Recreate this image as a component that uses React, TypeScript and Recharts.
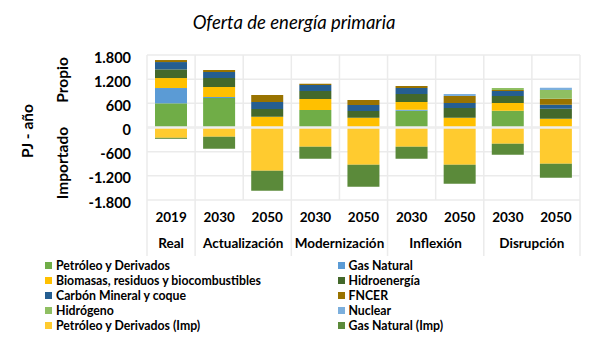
import { BarChart, Bar, XAxis, YAxis, CartesianGrid, ReferenceLine } from 'recharts'

const years = ['2019', '2030', '2050', '2030', '2050', '2030', '2050', '2030', '2050']
const scenarios = ['Real', 'Actualización', 'Actualización', 'Modernización', 'Modernización', 'Inflexión', 'Inflexión', 'Disrupción', 'Disrupción']

// PJ - año, propio (positivo) e importado (negativo)
const petroleo = [600, 734, 0, 437, 0, 413, 0, 413, 0]
const gasNatural = [380, 25, 0, 0, 0, 25, 0, 0, 0]
const biomasas = [248, 248, 264, 272, 239, 198, 239, 198, 215]
const hidroenergia = [215, 223, 198, 198, 173, 198, 248, 173, 248]
const carbon = [182, 149, 173, 149, 149, 149, 124, 124, 99]
const fncer = [50, 50, 173, 33, 124, 50, 173, 25, 149]
const hidrogeno = [0, 0, 0, 0, 0, 0, 0, 50, 223]
const nuclear = [0, 0, 0, 0, 0, 0, 50, 0, 50]
const petroleoImp = [-256, -231, -1073, -479, -924, -479, -924, -404, -900]
const gasNaturalImp = [-25, -297, -495, -297, -545, -297, -470, -272, -347]

const yTicks = [-1800, -1200, -600, 0, 600, 1200, 1800]

const series = [
  { key: 'petroleo', name: 'Petróleo y Derivados', color: '#70AD47', values: petroleo },
  { key: 'gasNatural', name: 'Gas Natural', color: '#5B9BD5', values: gasNatural },
  { key: 'biomasas', name: 'Biomasas, residuos y biocombustibles', color: '#FFC000', values: biomasas },
  { key: 'hidroenergia', name: 'Hidroenergía', color: '#43682B', values: hidroenergia },
  { key: 'carbon', name: 'Carbón Mineral y coque', color: '#255E91', values: carbon },
  { key: 'fncer', name: 'FNCER', color: '#997300', values: fncer },
  { key: 'hidrogeno', name: 'Hidrógeno', color: '#8FBF62', values: hidrogeno },
  { key: 'nuclear', name: 'Nuclear', color: '#7CAFDD', values: nuclear },
  { key: 'petroleoImp', name: 'Petróleo y Derivados (Imp)', color: '#FFCB2F', values: petroleoImp },
  { key: 'gasNaturalImp', name: 'Gas Natural (Imp)', color: '#5B8A3A', values: gasNaturalImp },
]

const data = years.map((year, i) => {
  const row: Record<string, string | number> = { year, scenario: scenarios[i] }
  series.forEach((s) => { row[s.key] = s.values[i] })
  return row
})

const FONT = "Lato, 'Liberation Sans', sans-serif"
const GRID = '#EBEBEB'

const fmt = (v: number) => {
  const s = Math.abs(v).toString().replace(/\B(?=(\d{3})+(?!\d))/g, '.')
  return v < 0 ? '-' + s : s
}

function YTick(props: any) {
  const { x, y, payload } = props
  return (
    <text x={x} y={y + 2} textAnchor="end" dominantBaseline="central" fontFamily={FONT} fontWeight={700} fontSize={14.5} fill="#000">
      {fmt(payload.value)}
    </text>
  )
}

function CatTick(props: any) {
  const { x, y, index, width, payload } = props
  const bw = width / years.length
  const first = index === 0 || scenarios[index] !== scenarios[index - 1]
  let n = 1
  while (index + n < scenarios.length && scenarios[index + n] === scenarios[index]) n++
  const last = index === years.length - 1
  return (
    <g>
      <text x={x} y={y + 17} textAnchor="middle" dominantBaseline="central" fontFamily={FONT} fontWeight={700} fontSize={13.5} fill="#000">
        {payload.value}
      </text>
      {first && (
        <>
          <line x1={x - bw / 2} x2={x - bw / 2} y1={y} y2={y + 56} stroke={GRID} strokeWidth={1.5} />
          <text x={x + ((n - 1) * bw) / 2} y={y + 43} textAnchor="middle" dominantBaseline="central" fontFamily={FONT} fontWeight={700} fontSize={13.5} fill="#000">
            {scenarios[index]}
          </text>
        </>
      )}
      {last && <line x1={x + bw / 2} x2={x + bw / 2} y1={y} y2={y + 56} stroke={GRID} strokeWidth={1.5} />}
    </g>
  )
}

function SideLabels() {
  return (
    <g fontFamily={FONT} fontWeight={700} fontSize={15.5} fill="#000">
      <text x={294} y={22} textAnchor="middle" dominantBaseline="central" fontStyle="italic" fontWeight={400} fontSize={18.5}>
        Oferta de energía primaria
      </text>
      <text transform="translate(27,131) rotate(-90)" textAnchor="middle" dominantBaseline="central">PJ - año</text>
      <text transform="translate(62,80) rotate(-90)" textAnchor="middle" dominantBaseline="central">Propio</text>
      <text transform="translate(62,163) rotate(-90)" textAnchor="middle" dominantBaseline="central">Importado</text>
    </g>
  )
}

export default function App() {
  return (
    <div style={{ position: 'absolute', left: 0, top: 0, width: 609, height: 356, background: '#fff' }}>
      <BarChart
        width={609}
        height={356}
        data={data}
        stackOffset="sign"
        margin={{ top: 55, right: 29, left: 0, bottom: 100 }}
      >
        <CartesianGrid
          stroke={GRID}
          strokeWidth={1.5}
          verticalCoordinatesGenerator={({ offset }: any) =>
            years.map((_, i) => offset.left + (i * offset.width) / years.length).concat(offset.left + offset.width)
          }
        />
        <XAxis dataKey="year" height={56} tickSize={0} tickMargin={0} interval={0} axisLine={false} tickLine={false} tick={<CatTick />} />
        <YAxis
          width={147}
          domain={[-1800, 1800]}
          ticks={yTicks}
          tickSize={0}
          tickMargin={16}
          axisLine={false}
          tickLine={false}
          tick={<YTick />}
        />
        {series.map((s) => (
          <Bar key={s.key} dataKey={s.key} name={s.name} stackId="a" fill={s.color} barSize={32} isAnimationActive={false} />
        ))}
        <ReferenceLine y={0} stroke="#EEEEEE" strokeWidth={2.5} />
        <SideLabels />
      </BarChart>
      <div style={{ position: 'absolute', left: 0, top: 0, fontFamily: FONT, fontWeight: 700, fontSize: 12.3, color: '#000' }}>
        {series.map((s, i) => {
          const col = i % 2
          const row = Math.floor(i / 2)
          return (
            <div
              key={s.key}
              style={{
                position: 'absolute',
                left: col === 0 ? 45 : 337.5,
                top: 265 + row * 15 - 8,
                height: 16,
                display: 'flex',
                alignItems: 'center',
                whiteSpace: 'nowrap',
              }}
            >
              <span style={{ display: 'inline-block', width: 7, height: 7, background: s.color, marginRight: 4 }} />
              {s.name}
            </div>
          )
        })}
      </div>
    </div>
  )
}
